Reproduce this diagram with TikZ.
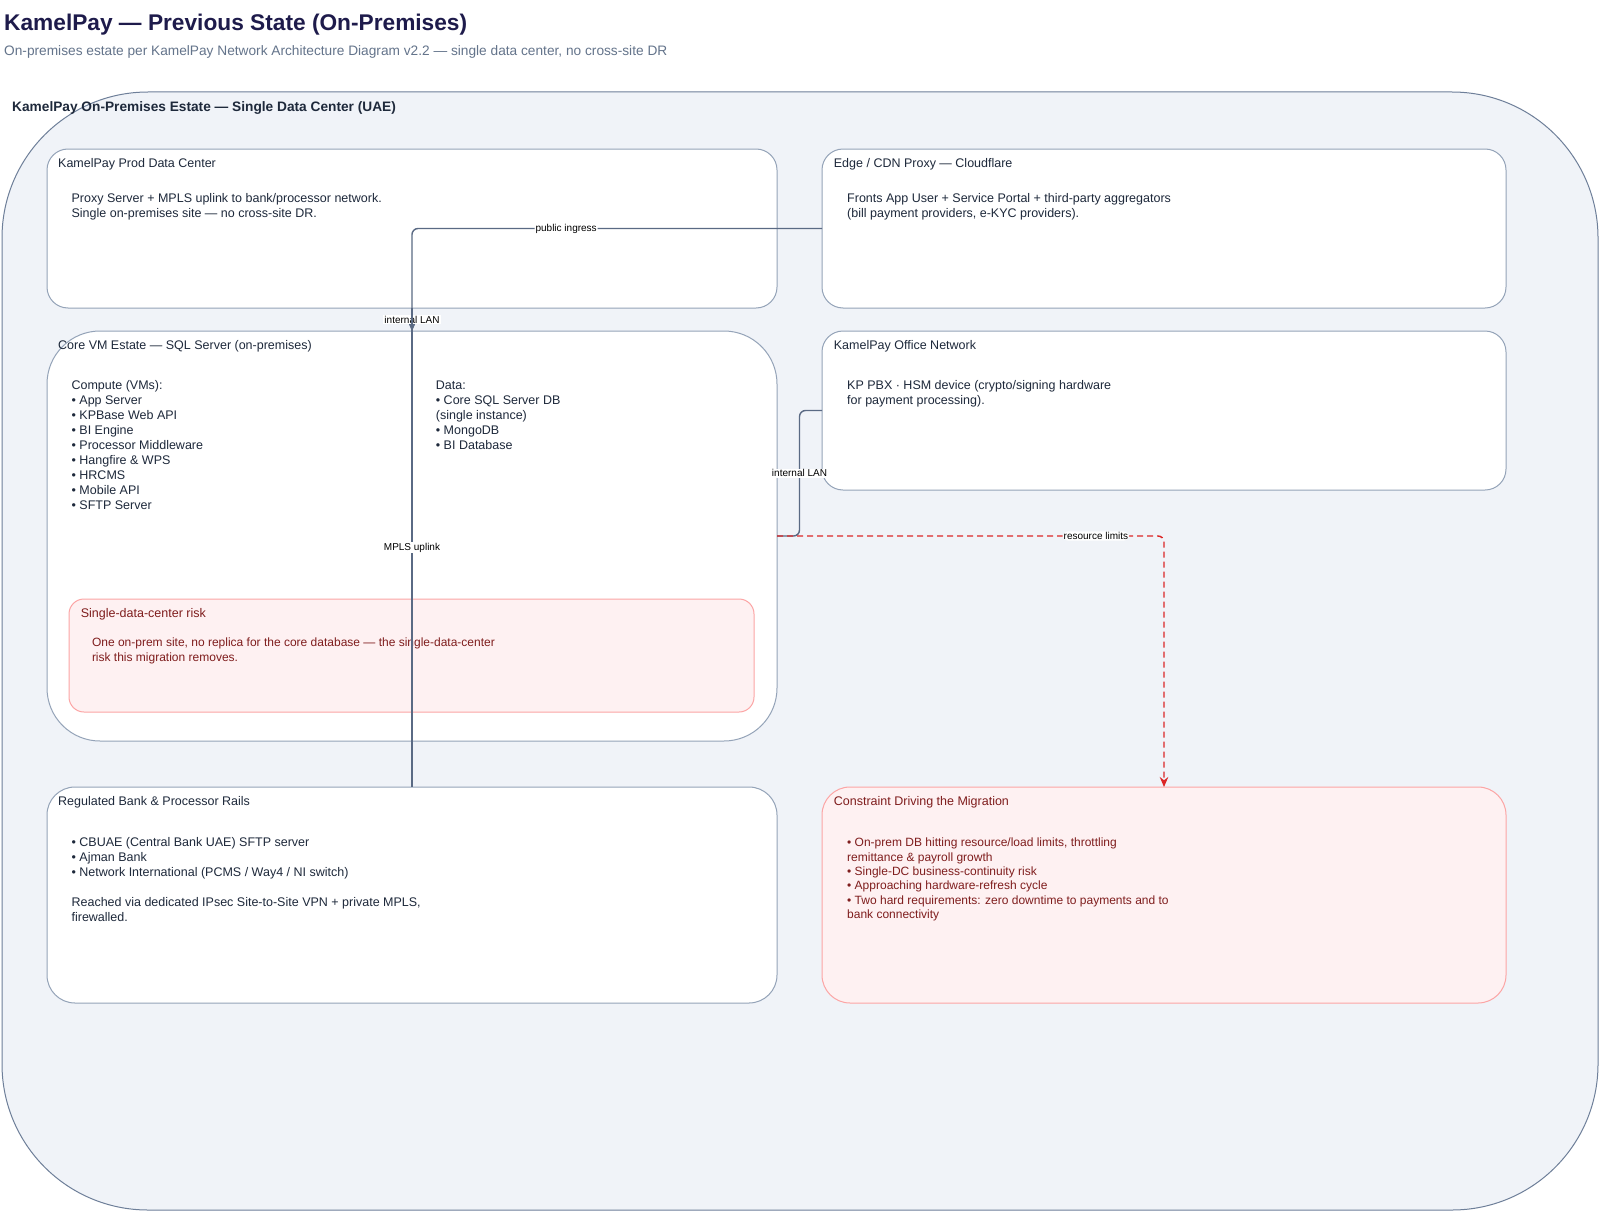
\documentclass[tikz,border=0pt]{standalone}
\usepackage{fontspec}
\setmainfont{Liberation Sans}
\usetikzlibrary{arrows.meta,calc}
\definecolor{titlec}{HTML}{1E1B4B}
\definecolor{subc}{HTML}{64748B}
\definecolor{outerfill}{HTML}{F0F3F8}
\definecolor{outerdraw}{HTML}{6E7F99}
\definecolor{boxdraw}{HTML}{94A3B8}
\definecolor{textc}{HTML}{1E293B}
\definecolor{edgec}{HTML}{5A6A84}
\definecolor{redc}{HTML}{DC2626}
\definecolor{riskfill}{HTML}{FEF1F2}
\definecolor{riskdraw}{HTML}{FCA5A5}
\definecolor{risktext}{HTML}{7F1D1D}
\begin{document}
\begin{tikzpicture}[x=1pt,y=-1pt,
  boxshape/.style={draw=boxdraw, fill=white, line width=1pt, inner sep=0pt, outer sep=0pt, anchor=north west},
  riskshape/.style={boxshape, draw=riskdraw, fill=riskfill},
  boxtitle/.style={anchor=base west, inner sep=0pt, font=\fontsize{12.5}{15}\selectfont, text=textc},
  bodytext/.style={anchor=north west, inner sep=0pt, align=left, font=\fontsize{12.5}{15}\selectfont, text=textc},
  riskbody/.style={bodytext, font=\fontsize{12}{14.4}\selectfont, text=risktext},
  conn/.style={draw=edgec, line width=1.4pt},
  tip/.style={-{Stealth[length=10pt,width=8.5pt]}},
  redconn/.style={draw=redc, line width=1.4pt, dash pattern=on 6pt off 4pt},
  elabel/.style={fill=white, inner sep=1pt, font=\fontsize{10}{12}\selectfont, text=black}
]
\useasboundingbox (0,0) rectangle (1600,1212);
\fill[white] (0,0) rectangle (1600,1212);

% titles
\node[anchor=base west, inner sep=0pt, font=\fontsize{22.7}{27}\selectfont\bfseries, text=titlec] (title) at (4,31) {KamelPay — Previous State (On-Premises)};
\node[anchor=base west, inner sep=0pt, font=\fontsize{13.7}{16}\selectfont, text=subc] (subtitle) at (4,56) {On-premises estate per KamelPay Network Architecture Diagram v2.2 — single data center, no cross-site DR};

% outer container
\node[boxshape, draw=outerdraw, fill=outerfill, rounded corners=146pt, minimum width=1596pt, minimum height=1118pt] (outer) at (2,92) {};
\node[anchor=base west, inner sep=0pt, font=\fontsize{13.7}{16}\selectfont\bfseries, text=textc] (outerlabel) at (12,112) {KamelPay On-Premises Estate — Single Data Center (UAE)};

% boxes
\node[boxshape, rounded corners=21pt, minimum width=730pt, minimum height=159pt] (prod) at (47,149) {};
\node[boxshape, rounded corners=21pt, minimum width=684pt, minimum height=159pt] (edge) at (822,149) {};
\node[boxshape, rounded corners=53pt, minimum width=730pt, minimum height=410pt] (core) at (47,331) {};
\node[boxshape, rounded corners=21pt, minimum width=684pt, minimum height=159pt] (office) at (822,331) {};
\node[riskshape, rounded corners=15pt, minimum width=685pt, minimum height=113pt] (risk) at (69,599) {};
\node[boxshape, rounded corners=28pt, minimum width=730pt, minimum height=216pt] (bank) at (47,787) {};
\node[riskshape, rounded corners=28pt, minimum width=684pt, minimum height=216pt] (constraint) at (822,787) {};

% box texts
\node[boxtitle] (prodt) at (58,167.6) {KamelPay Prod Data Center};
\node[bodytext] (prodb) at (71.4,192.8) {Proxy Server + MPLS uplink to bank/processor network.\\Single on-premises site — no cross-site DR.};

\node[boxtitle] (edget) at (833.7,167.6) {Edge / CDN Proxy — Cloudflare};
\node[bodytext] (edgeb) at (847,192.8) {Fronts App User + Service Portal + third-party aggregators\\(bill payment providers, e-KYC providers).};

\node[boxtitle] (coret) at (58,349.3) {Core VM Estate — SQL Server (on-premises)};
\node[bodytext] (corec) at (71.4,380.4) {Compute (VMs):\\• App Server\\• KPBase Web API\\• BI Engine\\• Processor Middleware\\• Hangfire \& WPS\\• HRCMS\\• Mobile API\\• SFTP Server};
\node[bodytext] (cored) at (435.7,380.4) {Data:\\• Core SQL Server DB\\(single instance)\\• MongoDB\\• BI Database};

\node[boxtitle] (officet) at (833.7,349.3) {KamelPay Office Network};
\node[bodytext] (officeb) at (847,380.4) {KP PBX · HSM device (crypto/signing hardware\\for payment processing).};

\node[boxtitle, text=risktext] (riskt) at (80.6,617.6) {Single-data-center risk};
\node[riskbody] (riskb) at (91.8,637.8) {One on-prem site, no replica for the core database — the single-data-center\\risk this migration removes.};

\node[boxtitle] (bankt) at (58,805.3) {Regulated Bank \& Processor Rails};
\node[bodytext] (bankb) at (71.4,837.5) {• CBUAE (Central Bank UAE) SFTP server\\• Ajman Bank\\• Network International (PCMS / Way4 / NI switch)\\[15pt]Reached via dedicated IPsec Site-to-Site VPN + private MPLS,\\firewalled.};

\node[boxtitle, text=risktext] (constraintt) at (833.7,805.3) {Constraint Driving the Migration};
\node[riskbody] (constraintb) at (847,837.8) {• On-prem DB hitting resource/load limits, throttling\\remittance \& payroll growth\\• Single-DC business-continuity risk\\• Approaching hardware-refresh cycle\\• Two hard requirements: zero downtime to payments and to\\bank connectivity};

% connectors
\draw[conn, tip, rounded corners=6pt] (edge.west) -| node[elabel, pos=0.312] {public ingress} (core.north);
\draw[conn, tip] (prod.south) -- node[elabel] {internal LAN} (core.north);
\draw[conn] (prod.south) -- node[elabel] {MPLS uplink} (bank.north);
\coordinate (lanmid) at ($(core.east)!0.5!(office.west)$);
\draw[conn, rounded corners=6pt] (core.east) -| (lanmid) |- (office.west);
\node[elabel] (lanlabel) at (lanmid) {internal LAN};
\draw[redconn, tip, rounded corners=6pt] (core.east) -| node[elabel, pos=0.412] {resource limits} (constraint.north);
\end{tikzpicture}
\end{document}
